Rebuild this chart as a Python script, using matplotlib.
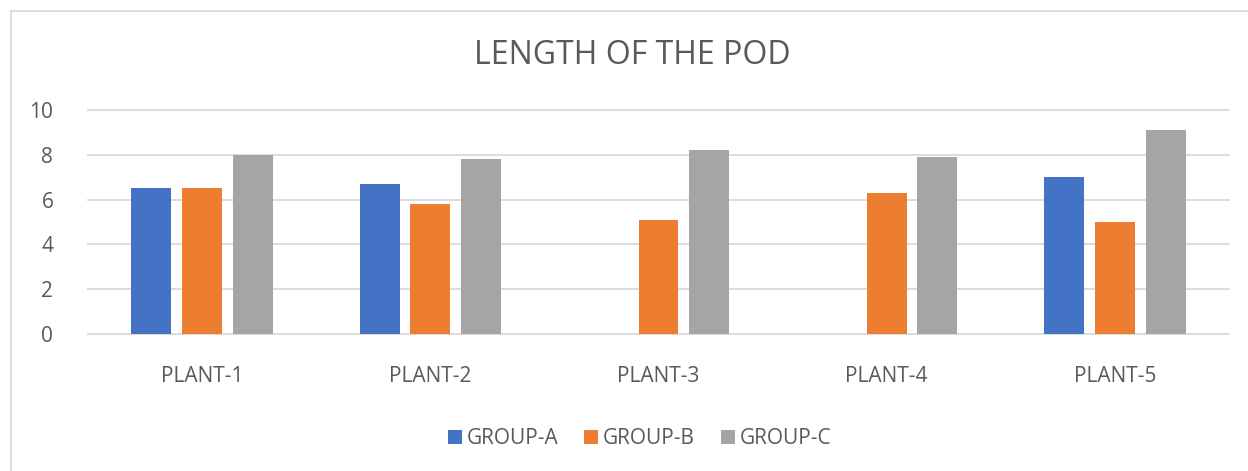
import matplotlib.pyplot as plt
import numpy as np
from matplotlib.patches import Patch, Rectangle

plt.rcParams['font.family'] = ['Open Sans', 'DejaVu Sans']

plants = ['PLANT-1', 'PLANT-2', 'PLANT-3', 'PLANT-4', 'PLANT-5']
groups = ['GROUP-A', 'GROUP-B', 'GROUP-C']
group_a = [6.5, 6.7, 0, 0, 7.0]
group_b = [6.5, 5.8, 5.1, 6.3, 5.0]
group_c = [8.0, 7.8, 8.2, 7.9, 9.1]
y_ticks = [0, 2, 4, 6, 8, 10]

colors = ['#4472C4', '#ED7D31', '#A5A5A5']
text_color = '#595959'
grid_color = '#D9D9D9'

fig = plt.figure(figsize=(12.48, 4.71), dpi=100)
ax = fig.add_axes([88 / 1248, 1 - 334 / 471, (1229 - 88) / 1248, (334 - 110) / 471])

x = np.arange(len(plants))
width = 0.175
step = 0.222
for i, (vals, col) in enumerate(zip([group_a, group_b, group_c], colors)):
    ax.bar(x + (i - 1) * step, vals, width=width, color=col, zorder=3)

ax.set_xlim(-0.5, len(plants) - 0.5)
ax.set_ylim(0, 10)
ax.set_yticks(y_ticks)
ax.set_xticks(x)
ax.set_xticklabels(plants)
ax.tick_params(axis='both', length=0, labelsize=15, labelcolor=text_color)
ax.tick_params(axis='y', pad=25)
ax.tick_params(axis='x', pad=23)
ax.yaxis.grid(True, color=grid_color, linewidth=1.3)
ax.set_axisbelow(True)
for gl in ax.get_ygridlines():
    gl.set_clip_on(False)
for s in ax.spines.values():
    s.set_visible(False)

fig.text(632 / 1248, 1 - 55 / 471, 'LENGTH OF THE POD', ha='center', va='center',
         fontsize=23, color=text_color)

handles = [Patch(facecolor=c, edgecolor='none') for c in colors]
leg = fig.legend(handles, groups, loc='center', bbox_to_anchor=(639.5 / 1248, 1 - 439 / 471),
                 ncol=3, frameon=False, fontsize=15, handlelength=0.67, handleheight=0.67,
                 handletextpad=0.24, columnspacing=1.24)
for t in leg.get_texts():
    t.set_color(text_color)

# outer chart border (right/bottom run off the canvas)
fig.patches.append(Rectangle((11 / 1248, -0.05), 1.1, 1 - 11 / 471 + 0.05,
                             transform=fig.transFigure, fill=False,
                             edgecolor=grid_color, linewidth=1.3))

fig.savefig('out.png', dpi=100)
